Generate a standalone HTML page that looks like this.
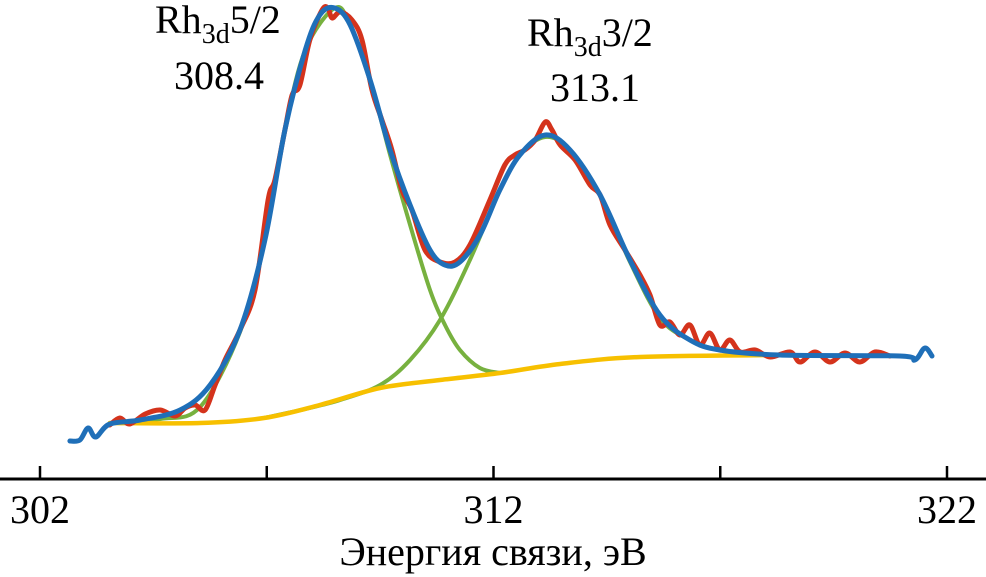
<!DOCTYPE html>
<html><head><meta charset="utf-8"><style>
html,body{margin:0;padding:0;background:#fff;}
svg{display:block;}
text{font-family:"Liberation Serif",serif;}
</style></head><body>
<svg id="chart" width="986" height="577" viewBox="0 0 986 577">
<g id="lines"></g>
<line x1="0" y1="479" x2="986" y2="479" stroke="#000" stroke-width="3"/>
<g id="ticks"></g>
<text x="493" y="565" style="font-size:40px" text-anchor="middle">Энергия связи, эВ</text>
<text x="155" y="33" style="font-size:40px">Rh<tspan style="font-size:28px" dy="10">3d</tspan><tspan dy="-10">5/2</tspan></text>
<text x="219" y="89" style="font-size:40px" text-anchor="middle">308.4</text>
<text x="527" y="46" style="font-size:40px">Rh<tspan style="font-size:28px" dy="10">3d</tspan><tspan dy="-10">3/2</tspan></text>
<text x="595" y="101" style="font-size:40px" text-anchor="middle">313.1</text>
</svg>
<script>
const tickValues=[302,307,312,317,322];
const tickLabels=["302","","312","","322"];
const bgE=[303.54,305.53,306.94,308.17,309.50,310.82,312.14,313.47,315.23,318.32];
const bgI=[56,56,61,74,91,99,106,115,122,124];
const g1E=[303.54,304.65,305.53,306.41,306.96,307.40,307.85,308.50,308.84,309.28,309.72,310.16,310.60,310.93,311.26,311.70,312.14];
const g1I=[56,60,72,147,239,349,429,471,454,399,324,254,189,154,129,111,106];
const g2E=[306.94,307.85,308.62,309.50,310.16,310.82,311.48,312.14,312.58,313.14,313.69,314.35,315.01,315.67,316.33,316.99,317.87];
const g2I=[61,70,79,94,119,159,219,289,324,342,329,284,217,161,139,129,125];
const rawE=[303.54,303.76,303.98,304.32,304.65,304.98,305.20,305.42,305.64,305.86,306.08,306.41,306.74,307.03,307.18,307.40,307.56,307.73,307.95,308.22,308.35,308.44,308.62,308.88,309.10,309.32,309.54,309.76,309.98,310.20,310.49,310.82,311.15,311.48,311.92,312.25,312.47,312.69,312.92,313.14,313.29,313.47,313.80,314.13,314.35,314.57,314.90,315.23,315.45,315.67,315.89,316.11,316.33,316.55,316.77,316.99,317.21,317.44,317.77,318.10,318.54,318.76,319.09,319.42,319.75,320.08,320.41,320.74];
const rawI=[54,61,55,65,69,63,71,74,69,94,119,149,189,279,299,349,384,394,439,469,471,461,467,459,439,389,359,329,289,269,229,217,217,234,279,314,324,329,339,357,349,334,319,294,284,254,229,204,184,154,157,144,154,134,146,129,139,127,129,122,127,117,127,117,126,117,127,123];
const fitE=[302.66,302.88,303.06,303.23,303.54,304.21,305.09,305.75,306.41,306.96,307.40,307.85,308.17,308.50,308.84,309.28,309.72,310.16,310.60,310.93,311.26,311.70,312.14,312.58,313.14,313.69,314.35,315.01,315.67,316.33,316.99,318.32,320.96,321.29,321.51,321.67];
const fitI=[38,39,51,42,55,59,69,94,149,239,349,429,464,471,454,399,329,274,229,214,217,244,289,324,344,329,284,219,164,139,129,124,123,119,131,123];

const X=e=>40+(e-302)*45.35;
const Y=v=>479-v;
const NS="http://www.w3.org/2000/svg";
function pathD(E,I){
  const p=E.map((e,i)=>[X(e),Y(I[i])]);
  let d="M"+p[0][0].toFixed(1)+","+p[0][1].toFixed(1);
  for(let i=0;i<p.length-1;i++){
    const p0=p[i-1]||p[i],p1=p[i],p2=p[i+1],p3=p[i+2]||p2;
    const c1=[p1[0]+(p2[0]-p0[0])/6,p1[1]+(p2[1]-p0[1])/6];
    const c2=[p2[0]-(p3[0]-p1[0])/6,p2[1]-(p3[1]-p1[1])/6];
    d+="C"+c1.map(v=>v.toFixed(1))+" "+c2.map(v=>v.toFixed(1))+" "+p2.map(v=>v.toFixed(1));
  }
  return d;
}
const g=document.getElementById("lines");
function addLine(E,I,color,w,name){
  const el=document.createElementNS(NS,"path");
  el.setAttribute("d",pathD(E,I));
  el.setAttribute("fill","none");
  el.setAttribute("stroke",color);
  el.setAttribute("stroke-width",w);
  el.setAttribute("stroke-linejoin","round");
  el.setAttribute("stroke-linecap","round");
  
  
  g.appendChild(el);
}
addLine(g1E,g1I,"#77b13f",4,"component-peak-1");
addLine(g2E,g2I,"#77b13f",4,"component-peak-2");
addLine(bgE,bgI,"#f7c000",4.5,"background-line");
addLine(rawE,rawI,"#d4331c",5,"raw-spectrum");
addLine(fitE,fitI,"#1f6fb8",5,"fit-envelope");
const t=document.getElementById("ticks");
tickValues.forEach((v,i)=>{
  const l=document.createElementNS(NS,"line");
  l.setAttribute("x1",X(v));l.setAttribute("x2",X(v));
  l.setAttribute("y1",466);l.setAttribute("y2",479);
  l.setAttribute("stroke","#000");l.setAttribute("stroke-width","2.5");
  
  
  t.appendChild(l);
  if(tickLabels[i]){
    const tx=document.createElementNS(NS,"text");
    tx.setAttribute("x",X(v));tx.setAttribute("y",523);
    tx.setAttribute("style","font-size:40px");tx.setAttribute("text-anchor","middle");
    tx.textContent=tickLabels[i];
    
    
    t.appendChild(tx);
  }
});
</script>
</body></html>
